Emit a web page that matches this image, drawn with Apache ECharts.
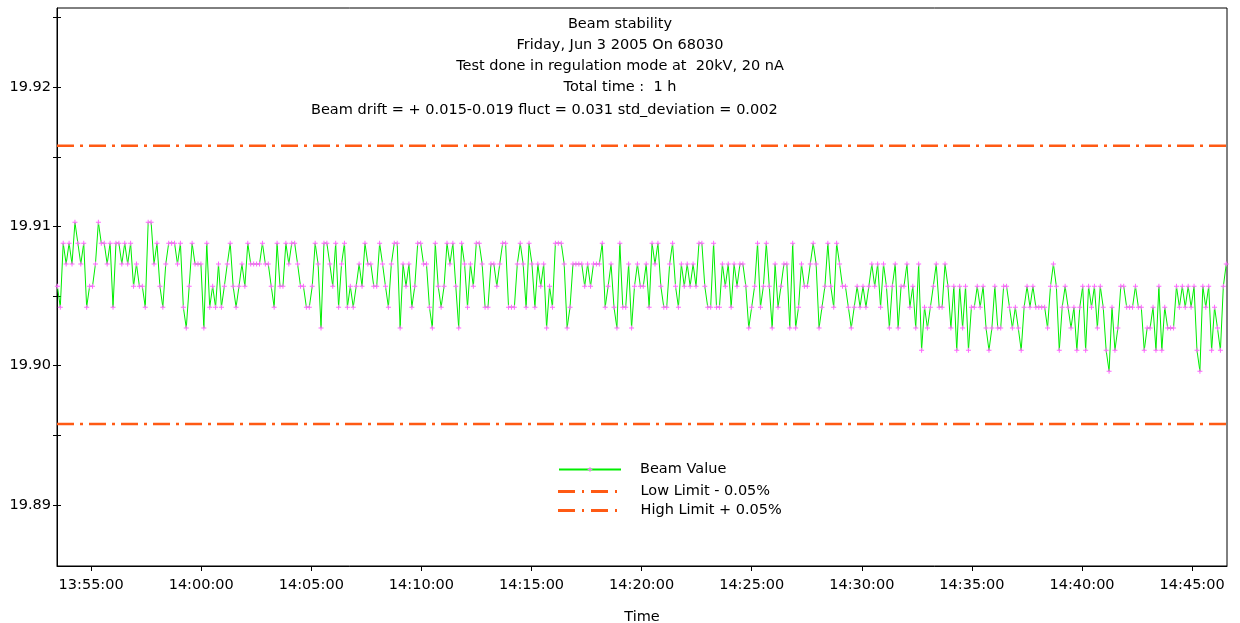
<!DOCTYPE html>
<html><head><meta charset="utf-8">
<script src="https://cdn.jsdelivr.net/npm/echarts@6/dist/echarts.min.js"></script>
<style>html,body{margin:0;padding:0;background:#fff}#c{width:1240px;height:623px}</style>
</head><body><div id="c"></div>
<script>
// Beam values (sampled every ~8 s), split in time-ordered segments
const seg1=[19.9057,19.9042,19.9088,19.9073,19.9088,19.9073,19.9103,19.9088,19.9073,19.9088,19.9042,19.9057,19.9057,19.9073,19.9103,19.9088,19.9088,19.9073,19.9088,19.9042,19.9088,19.9088,19.9073,19.9088,19.9073,19.9088,19.9057,19.9073,19.9057,19.9057,19.9042,19.9103,19.9103,19.9073,19.9088,19.9057,19.9042,19.9073,19.9088,19.9088];
const seg2=[19.9088,19.9073,19.9088,19.9042,19.9027,19.9057,19.9088,19.9073,19.9073,19.9073,19.9027,19.9088,19.9042,19.9057,19.9042,19.9073,19.9042,19.9057,19.9073,19.9088,19.9057,19.9042,19.9057,19.9073,19.9057,19.9088,19.9073,19.9073,19.9073,19.9073,19.9088,19.9073,19.9073,19.9057,19.9042,19.9088,19.9057,19.9057,19.9088,19.9073];
const seg3=[19.9088,19.9088,19.9073,19.9057,19.9057,19.9042,19.9042,19.9057,19.9088,19.9073,19.9027,19.9088,19.9088,19.9073,19.9057,19.9088,19.9042,19.9073,19.9088,19.9042,19.9057,19.9042,19.9057,19.9073,19.9057,19.9088,19.9073,19.9073,19.9057,19.9057,19.9088,19.9073,19.9057,19.9042,19.9073,19.9088,19.9088,19.9027];
const seg4=[19.9073,19.9057,19.9073,19.9042,19.9057,19.9088,19.9088,19.9073,19.9073,19.9042,19.9027,19.9088,19.9057,19.9042,19.9057,19.9088,19.9073,19.9088,19.9057,19.9027,19.9088,19.9073,19.9042,19.9073,19.9057,19.9088,19.9088,19.9073,19.9042,19.9042,19.9073,19.9073,19.9057,19.9073,19.9088,19.9088,19.9042,19.9042];
const seg5=[19.9042,19.9073,19.9088,19.9073,19.9042,19.9088,19.9073,19.9042,19.9073,19.9057,19.9073,19.9027,19.9057,19.9042,19.9088,19.9088,19.9088,19.9073,19.9027,19.9042,19.9073,19.9073,19.9073,19.9073,19.9057,19.9073,19.9057,19.9073,19.9073,19.9073,19.9088,19.9042,19.9057,19.9073,19.9042,19.9027,19.9088,19.9042];
const seg6=[19.9042,19.9073,19.9027,19.9057,19.9073,19.9057,19.9057,19.9073,19.9042,19.9088,19.9073,19.9088,19.9057,19.9042,19.9042,19.9073,19.9088,19.9057,19.9042,19.9073,19.9057,19.9073,19.9057,19.9073,19.9057,19.9088,19.9088,19.9057,19.9042,19.9042,19.9088,19.9042,19.9042,19.9073,19.9057,19.9073,19.9042,19.9073,19.9057];
const seg7=[19.9073,19.9073,19.9057,19.9027,19.9042,19.9057,19.9088,19.9042,19.9057,19.9088,19.9057,19.9027,19.9073,19.9042,19.9057,19.9073,19.9073,19.9027,19.9088,19.9027,19.9042,19.9073,19.9057,19.9057,19.9073,19.9088,19.9073,19.9027,19.9042,19.9057,19.9088,19.9057,19.9042,19.9088,19.9073,19.9057,19.9057,19.9042,19.9027,19.9042,19.9057,19.9042];
const seg8=[19.9057,19.9042,19.9057,19.9073,19.9057,19.9073,19.9042,19.9073,19.9057,19.9027,19.9057,19.9073,19.9027,19.9057,19.9057,19.9073,19.9042,19.9057,19.9027,19.9073,19.9011,19.9042,19.9027,19.9042,19.9057,19.9073,19.9042,19.9042,19.9073,19.9057,19.9027,19.9057,19.9011,19.9057,19.9027,19.9057,19.9011,19.9042,19.9042,19.9057];
const seg9=[19.9042,19.9057,19.9027,19.9011,19.9027,19.9057,19.9027,19.9027,19.9057,19.9057,19.9042,19.9027,19.9042,19.9027,19.9011,19.9042,19.9057,19.9042,19.9057,19.9042,19.9042,19.9042,19.9042,19.9027,19.9057,19.9073,19.9057,19.9011,19.9042,19.9057,19.9042,19.9027,19.9042,19.9011,19.9042,19.9057,19.9011,19.9057,19.9042,19.9057];
const seg10=[19.9027,19.9057,19.9042,19.9011,19.8996,19.9042,19.9011,19.9027,19.9057,19.9057,19.9042,19.9042,19.9042,19.9057,19.9042,19.9042,19.9011,19.9027,19.9027,19.9042,19.9011,19.9057,19.9011,19.9042,19.9027,19.9027,19.9027,19.9057,19.9042,19.9057,19.9042,19.9057,19.9042,19.9057,19.9011,19.8996,19.9057,19.9042,19.9057,19.9011,19.9042,19.9027,19.9011,19.9057,19.9073];

const lowLimit = 19.8958;
const highLimit = 19.9158;

// time in seconds of day
const sampleStart = 13*3600 + 53*60 + 28;   // 13:53:28
const sampleEnd   = 14*3600 + 46*60 + 33;   // 14:46:33
const xMin = 13*3600 + 53*60 + 27;
const xMax = 14*3600 + 46*60 + 35;
const xTickTimes = ["13:55:00","14:00:00","14:05:00","14:10:00","14:15:00","14:20:00","14:25:00","14:30:00","14:35:00","14:40:00","14:45:00"];
const yLabelValues = [19.89, 19.90, 19.91, 19.92];
const yTickValues = [19.89, 19.895, 19.90, 19.905, 19.91, 19.915, 19.92, 19.925];
const yMin = 19.8856, yMax = 19.9257;

const titleLines = ["Beam stability","Friday, Jun 3 2005 On 68030","Test done in regulation mode at  20kV, 20 nA","Total time :  1 h"];
const statsLine = "Beam drift = + 0.015-0.019 fluct = 0.031 std_deviation = 0.002";

function toSec(s){const p=s.split(':').map(Number);return p[0]*3600+p[1]*60+p[2];}
function fmt(v){v=Math.round(v);const h=Math.floor(v/3600),m=Math.floor(v%3600/60),s=v%60;return String(h).padStart(2,'0')+':'+String(m).padStart(2,'0')+':'+String(s).padStart(2,'0');}

const beam = [].concat(seg1,seg2,seg3,seg4,seg5,seg6,seg7,seg8,seg9,seg10);
const step = (sampleEnd - sampleStart)/(beam.length-1);
const beamData = beam.map((v,i)=>[sampleStart + i*step, v]);
const xTicks = xTickTimes.map(toSec);

const FONT = "DejaVu Sans, Verdana, sans-serif";
const plus = 'path://M0,2H5V3H0Z M2,0H3V5H2Z';
const limitColor = '#ff5a14';
const limitType = [17,6,3,6];
const dashDotIcon = 'path://M0,0H17V3H0Z M24,0H26V3H24Z M33,0H50V3H33Z M57,0H59V3H57Z';

const chart = echarts.init(document.getElementById('c'), null, {renderer:'canvas'});
chart.setOption({
  animation:false,
  backgroundColor:'#fff',
  textStyle:{fontFamily:FONT},
  title:[
    {text:titleLines.join('\n'), left:'center', top:9,
     textStyle:{fontFamily:FONT,fontSize:14.5,fontWeight:'normal',color:'#000',lineHeight:21}},
    {text:statsLine, left:306, top:98,
     textStyle:{fontFamily:FONT,fontSize:14.5,fontWeight:'normal',color:'#000'}}
  ],
  grid:{left:57,right:13,top:8,bottom:57,show:true,borderColor:'#000',borderWidth:1,outerBoundsMode:'none',containLabel:false},
  legend:[{
    orient:'vertical', left:558, top:462, padding:0, itemWidth:62, itemHeight:6, itemGap:4,
    textStyle:{fontFamily:FONT,fontSize:14.5,color:'#000',padding:[0,0,0,14]},
    data:['Beam Value']
  },{
    orient:'vertical', left:558, top:484, padding:0, itemWidth:62, itemHeight:3, itemGap:4,
    textStyle:{fontFamily:FONT,fontSize:14.5,color:'#000',padding:[0,0,0,17]},
    data:[{name:'Low Limit - 0.05%',icon:dashDotIcon},{name:'High Limit + 0.05%',icon:dashDotIcon}]
  }],
  xAxis:{
    type:'value', min:xMin, max:xMax, name:'Time', nameLocation:'middle', nameGap:44,
    nameTextStyle:{fontFamily:FONT,fontSize:14.5,color:'#000'},
    axisLine:{lineStyle:{color:'#000',width:1}},
    axisTick:{customValues:xTicks,length:5,lineStyle:{color:'#000'}},
    axisLabel:{customValues:xTicks,formatter:fmt,fontFamily:FONT,fontSize:14.5,color:'#000',margin:12},
    splitLine:{show:false}
  },
  yAxis:[{
    type:'value', min:yMin, max:yMax,
    axisLine:{show:true,lineStyle:{color:'#000',width:1}},
    axisTick:{show:true,customValues:yTickValues,length:4,lineStyle:{color:'#000'}},
    axisLabel:{customValues:yLabelValues,formatter:v=>v.toFixed(2),fontFamily:FONT,fontSize:14.5,color:'#000',margin:6},
    splitLine:{show:false}
  },{
    type:'value', min:yMin, max:yMax, position:'left',
    axisLine:{show:false},
    axisTick:{show:true,inside:true,customValues:yTickValues,length:4,lineStyle:{color:'#000'}},
    axisLabel:{show:false}, splitLine:{show:false}
  }],
  series:[
    {name:'Beam Value', type:'line', data:beamData, showAllSymbol:true,
     symbol:plus, symbolSize:5, itemStyle:{color:'#ff66ff'},
     lineStyle:{color:'#00ee00',width:1}, z:3},
    {name:'Low Limit - 0.05%', type:'line', data:[[xMin,lowLimit],[xMax,lowLimit]], symbol:'none',
     itemStyle:{color:limitColor}, lineStyle:{color:limitColor,width:2.5,type:limitType}},
    {name:'High Limit + 0.05%', type:'line', data:[[xMin,highLimit],[xMax,highLimit]], symbol:'none',
     itemStyle:{color:limitColor}, lineStyle:{color:limitColor,width:2.5,type:limitType}}
  ]
});
</script></body></html>
